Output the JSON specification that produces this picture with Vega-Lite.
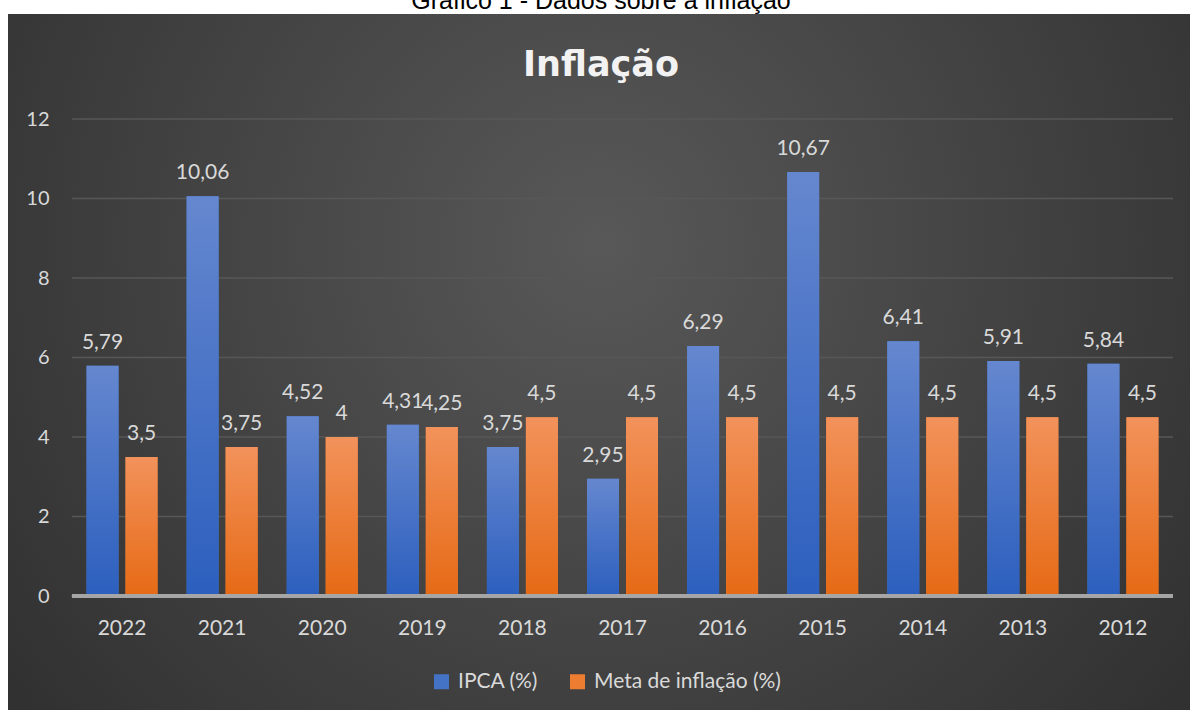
{
  "$schema": "https://vega.github.io/schema/vega-lite/v6.json",
  "width": 1182,
  "height": 696,
  "autosize": {"type": "none"},
  "padding": {"left": 8, "top": 14, "right": 0, "bottom": 0},
  "background": "white",
  "config": {
    "locale": {"number": {"decimal": ",", "thousands": ".", "grouping": [3], "currency": ["R$", ""]}},
    "view": {"stroke": null}
  },
  "view": {
    "stroke": null,
    "fill": {
      "gradient": "radial",
      "x1": 0.5, "y1": 0.4, "r1": 0,
      "x2": 0.5, "y2": 0.4, "r2": 0.8,
      "stops": [
        {"offset": 0, "color": "#585858"},
        {"offset": 1, "color": "#262626"}
      ]
    }
  },
  "title": {
    "text": "Gráfico 1 - Dados sobre a inflação",
    "subtitle": "Inflação",
    "font": "Liberation Sans",
    "fontSize": 25,
    "fontWeight": "normal",
    "color": "#000000",
    "subtitleFont": "DejaVu Sans",
    "subtitleFontSize": 35,
    "subtitleFontWeight": "bold",
    "subtitleColor": "#f2f2f2",
    "subtitlePadding": 34,
    "anchor": "middle",
    "dx": 2,
    "offset": -69
  },
  "datasets": {
    "dados": [
      {"ano": "2022", "serie": "IPCA (%)", "valor": 5.79},
      {"ano": "2021", "serie": "IPCA (%)", "valor": 10.06},
      {"ano": "2020", "serie": "IPCA (%)", "valor": 4.52},
      {"ano": "2019", "serie": "IPCA (%)", "valor": 4.31},
      {"ano": "2018", "serie": "IPCA (%)", "valor": 3.75},
      {"ano": "2017", "serie": "IPCA (%)", "valor": 2.95},
      {"ano": "2016", "serie": "IPCA (%)", "valor": 6.29},
      {"ano": "2015", "serie": "IPCA (%)", "valor": 10.67},
      {"ano": "2014", "serie": "IPCA (%)", "valor": 6.41},
      {"ano": "2013", "serie": "IPCA (%)", "valor": 5.91},
      {"ano": "2012", "serie": "IPCA (%)", "valor": 5.84},
      {"ano": "2022", "serie": "Meta de inflação (%)", "valor": 3.5},
      {"ano": "2021", "serie": "Meta de inflação (%)", "valor": 3.75},
      {"ano": "2020", "serie": "Meta de inflação (%)", "valor": 4},
      {"ano": "2019", "serie": "Meta de inflação (%)", "valor": 4.25},
      {"ano": "2018", "serie": "Meta de inflação (%)", "valor": 4.5},
      {"ano": "2017", "serie": "Meta de inflação (%)", "valor": 4.5},
      {"ano": "2016", "serie": "Meta de inflação (%)", "valor": 4.5},
      {"ano": "2015", "serie": "Meta de inflação (%)", "valor": 4.5},
      {"ano": "2014", "serie": "Meta de inflação (%)", "valor": 4.5},
      {"ano": "2013", "serie": "Meta de inflação (%)", "valor": 4.5},
      {"ano": "2012", "serie": "Meta de inflação (%)", "valor": 4.5}
    ],
    "grade": [
      {"g": 2}, {"g": 4}, {"g": 6}, {"g": 8}, {"g": 10}, {"g": 12}
    ]
  },
  "data": {"name": "dados"},
  "layer": [
    {
      "data": {"name": "grade"},
      "mark": {"type": "rule", "stroke": "#575757", "strokeWidth": 1.3},
      "encoding": {
        "y": {"field": "g", "type": "quantitative", "title": null},
        "x": {"datum": "2022", "type": "nominal", "bandPosition": 0, "title": null},
        "x2": {"datum": "2012", "bandPosition": 1}
      }
    },
    {
      "mark": {"type": "bar"},
      "encoding": {
        "x": {
          "field": "ano", "type": "nominal", "title": null,
          "scale": {
            "domain": ["2022", "2021", "2020", "2019", "2018", "2017", "2016", "2015", "2014", "2013", "2012"],
            "paddingInner": 0, "paddingOuter": 0.4046, "align": 0.79
          },
          "axis": {
            "orient": "bottom", "offset": -114, "ticks": false, "domain": false, "grid": false,
            "bandPosition": 0.5, "labelAlign": "center",
            "labelPadding": 32, "labelFont": "Lato", "labelFontSize": 21, "labelColor": "#d9d9d9", "labelAngle": 0
          }
        },
        "xOffset": {
          "field": "serie", "type": "nominal",
          "scale": {"domain": ["IPCA (%)", "Meta de inflação (%)"], "paddingInner": 0.1795, "paddingOuter": 0.373}
        },
        "y": {
          "field": "valor", "type": "quantitative", "title": null,
          "scale": {"domain": [-2.868, 14.642], "nice": false, "zero": false},
          "axis": {
            "values": [0, 2, 4, 6, 8, 10, 12], "grid": false, "ticks": false, "domain": false,
            "offset": -64, "labelPadding": 23, "labelFont": "Lato", "labelFontSize": 20, "labelColor": "#d9d9d9", "format": "d"
          }
        },
        "color": {
          "field": "serie", "type": "nominal",
          "scale": {"domain": ["IPCA (%)", "Meta de inflação (%)"], "range": ["#4472c4", "#ed7d31"]},
          "legend": {
            "orient": "none", "legendX": 423, "legendY": 657, "direction": "horizontal", "columns": 2,
            "symbolType": "square", "symbolSize": 225, "symbolStrokeWidth": 0,
            "labelFont": "Lato", "labelFontSize": 21, "labelColor": "#d9d9d9", "labelOffset": 6, "labelLimit": 400,
            "columnPadding": 28, "title": null, "padding": 0
          }
        }
      }
    },
    {
      "mark": {"type": "bar"},
      "encoding": {
        "x": {"field": "ano", "type": "nominal"},
        "xOffset": {"field": "serie", "type": "nominal"},
        "y": {"field": "valor", "type": "quantitative"},
        "fill": {
          "condition": {
            "test": "datum.serie === 'IPCA (%)'",
            "value": {
              "gradient": "linear", "x1": 0, "y1": 0, "x2": 0, "y2": 1,
              "stops": [{"offset": 0, "color": "#6587cf"}, {"offset": 1, "color": "#2c5fbe"}]
            }
          },
          "value": {
            "gradient": "linear", "x1": 0, "y1": 0, "x2": 0, "y2": 1,
            "stops": [{"offset": 0, "color": "#f2925b"}, {"offset": 1, "color": "#e66a15"}]
          }
        }
      }
    },
    {
      "mark": {"type": "text", "dy": -17, "baseline": "alphabetic", "font": "Lato", "fontSize": 21, "fill": "#d9d9d9"},
      "encoding": {
        "x": {"field": "ano", "type": "nominal"},
        "xOffset": {"field": "serie", "type": "nominal"},
        "y": {"field": "valor", "type": "quantitative"},
        "text": {"field": "valor", "type": "quantitative", "format": ".2~f"}
      }
    },
    {
      "mark": {"type": "rule", "stroke": "#a6a6a6", "strokeWidth": 2.5},
      "encoding": {
        "y": {"datum": 0},
        "x": {"datum": "2022", "type": "nominal", "bandPosition": 0},
        "x2": {"datum": "2012", "bandPosition": 1}
      }
    }
  ]
}
